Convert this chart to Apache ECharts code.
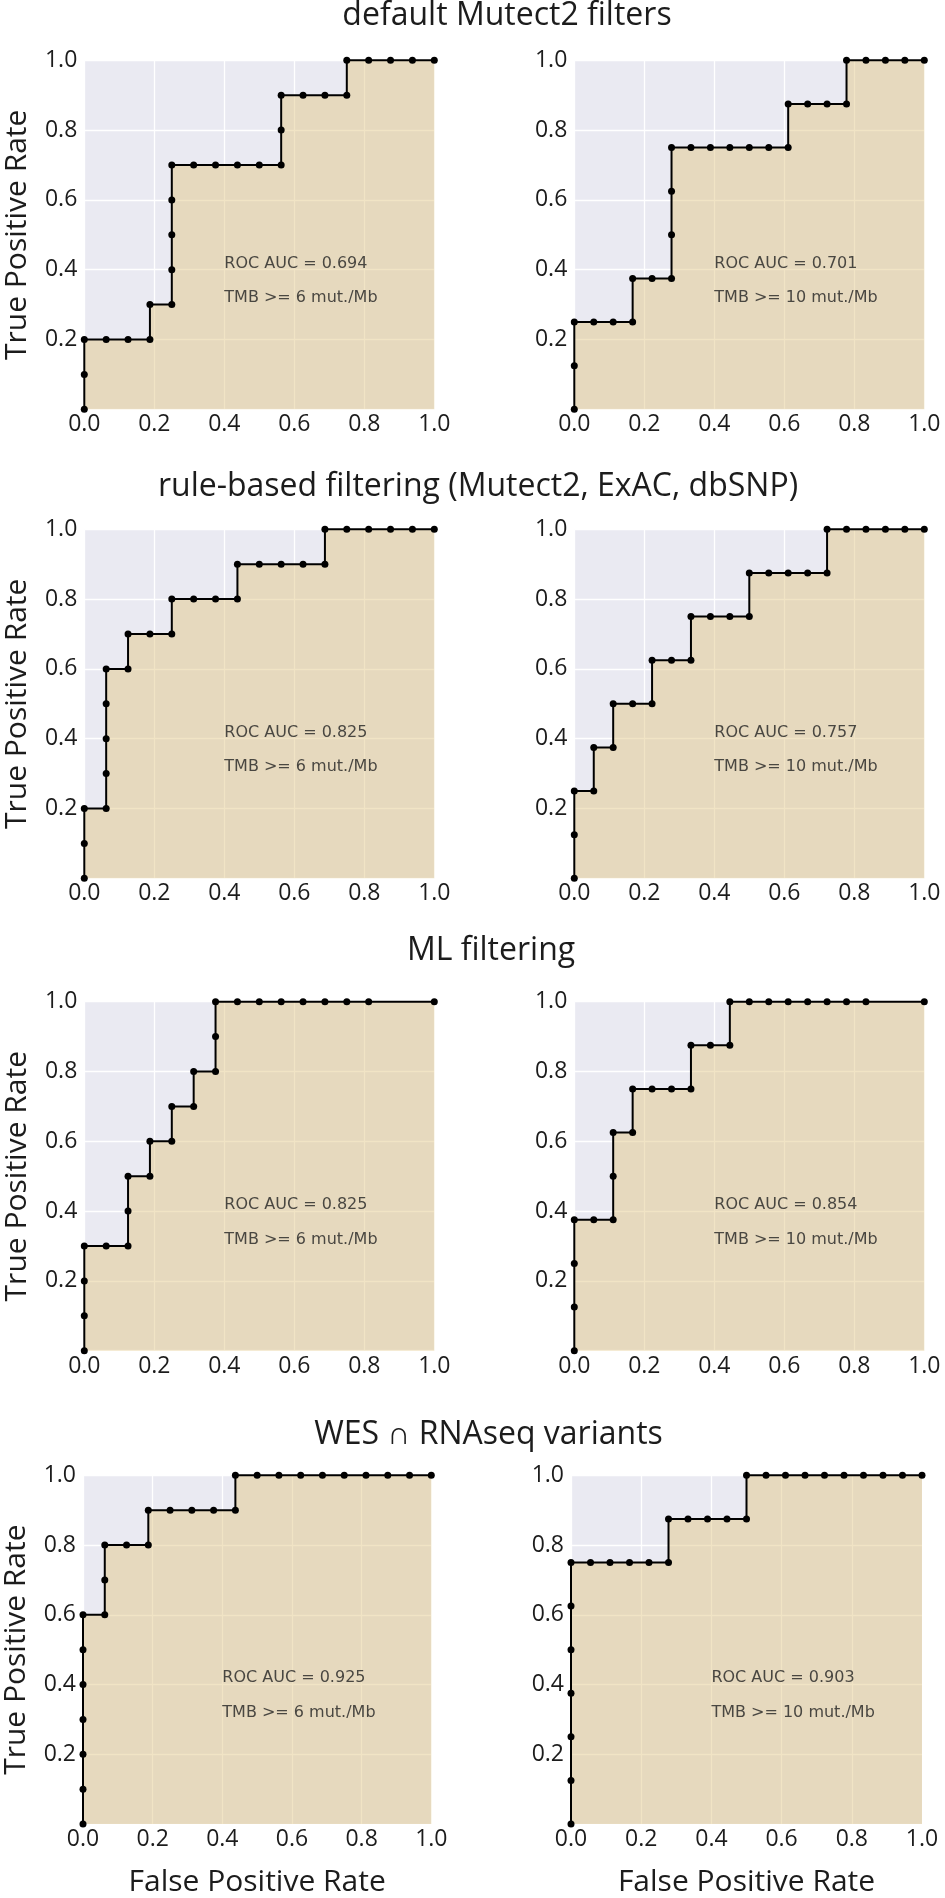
<!DOCTYPE html>
<html><head><meta charset="utf-8">
<script src="https://cdn.jsdelivr.net/npm/echarts@6/dist/echarts.min.js"></script>
<style>html,body{margin:0;padding:0;background:#fff}#c{width:945px;height:1898px}</style>
</head><body><div id="c"></div>
<script>
// ---------------- DATA ----------------
const rowTitles = ['default Mutect2 filters', 'rule-based filtering (Mutect2, ExAC, dbSNP)', 'ML filtering', 'WES \u2229 RNAseq variants'];
const xTickValues = [0, 0.2, 0.4, 0.6, 0.8, 1.0];
const yLabelName = 'True Positive Rate';
const xLabelName = 'False Positive Rate';

// default Mutect2 filters, TMB >= 6
const fpr_default_6 = [0,0,0,0.0625,0.125,0.1875,0.1875,0.25,0.25,0.25,0.25,0.25,0.3125,0.375,0.4375,0.5,0.5625,0.5625,0.5625,0.625,0.6875,0.75,0.75,0.8125,0.875,0.9375,1];
const tpr_default_6 = [0,0.1,0.2,0.2,0.2,0.2,0.3,0.3,0.4,0.5,0.6,0.7,0.7,0.7,0.7,0.7,0.7,0.8,0.9,0.9,0.9,0.9,1,1,1,1,1];
// default Mutect2 filters, TMB >= 10
const fpr_default_10 = [0,0,0,0.0556,0.1111,0.1667,0.1667,0.2222,0.2778,0.2778,0.2778,0.2778,0.3333,0.3889,0.4444,0.5,0.5556,0.6111,0.6111,0.6667,0.7222,0.7778,0.7778,0.8333,0.8889,0.9444,1];
const tpr_default_10 = [0,0.125,0.25,0.25,0.25,0.25,0.375,0.375,0.375,0.5,0.625,0.75,0.75,0.75,0.75,0.75,0.75,0.75,0.875,0.875,0.875,0.875,1,1,1,1,1];
// rule-based, TMB >= 6
const fpr_rule_6 = [0,0,0,0.0625,0.0625,0.0625,0.0625,0.0625,0.125,0.125,0.1875,0.25,0.25,0.3125,0.375,0.4375,0.4375,0.5,0.5625,0.625,0.6875,0.6875,0.75,0.8125,0.875,0.9375,1];
const tpr_rule_6 = [0,0.1,0.2,0.2,0.3,0.4,0.5,0.6,0.6,0.7,0.7,0.7,0.8,0.8,0.8,0.8,0.9,0.9,0.9,0.9,0.9,1,1,1,1,1,1];
// rule-based, TMB >= 10
const fpr_rule_10 = [0,0,0,0.0556,0.0556,0.1111,0.1111,0.1667,0.2222,0.2222,0.2778,0.3333,0.3333,0.3889,0.4444,0.5,0.5,0.5556,0.6111,0.6667,0.7222,0.7222,0.7778,0.8333,0.8889,0.9444,1];
const tpr_rule_10 = [0,0.125,0.25,0.25,0.375,0.375,0.5,0.5,0.5,0.625,0.625,0.625,0.75,0.75,0.75,0.75,0.875,0.875,0.875,0.875,0.875,1,1,1,1,1,1];
// ML filtering, TMB >= 6
const fpr_ml_6 = [0,0,0,0,0.0625,0.125,0.125,0.125,0.1875,0.1875,0.25,0.25,0.3125,0.3125,0.375,0.375,0.375,0.4375,0.5,0.5625,0.625,0.6875,0.75,0.8125,1];
const tpr_ml_6 = [0,0.1,0.2,0.3,0.3,0.3,0.4,0.5,0.5,0.6,0.6,0.7,0.7,0.8,0.8,0.9,1,1,1,1,1,1,1,1,1];
// ML filtering, TMB >= 10
const fpr_ml_10 = [0,0,0,0,0.0556,0.1111,0.1111,0.1111,0.1667,0.1667,0.2222,0.2778,0.3333,0.3333,0.3889,0.4444,0.4444,0.5,0.5556,0.6111,0.6667,0.7222,0.7778,0.8333,1];
const tpr_ml_10 = [0,0.125,0.25,0.375,0.375,0.375,0.5,0.625,0.625,0.75,0.75,0.75,0.75,0.875,0.875,0.875,1,1,1,1,1,1,1,1,1];
// WES ∩ RNAseq, TMB >= 6
const fpr_wes_6 = [0,0,0,0,0,0,0,0.0625,0.0625,0.0625,0.125,0.1875,0.1875,0.25,0.3125,0.375,0.4375,0.4375,0.5,0.5625,0.625,0.6875,0.75,0.8125,0.875,0.9375,1];
const tpr_wes_6 = [0,0.1,0.2,0.3,0.4,0.5,0.6,0.6,0.7,0.8,0.8,0.8,0.9,0.9,0.9,0.9,0.9,1,1,1,1,1,1,1,1,1,1];
// WES ∩ RNAseq, TMB >= 10
const fpr_wes_10 = [0,0,0,0,0,0,0,0.0556,0.1111,0.1667,0.2222,0.2778,0.2778,0.3333,0.3889,0.4444,0.5,0.5,0.5556,0.6111,0.6667,0.7222,0.7778,0.8333,0.8889,0.9444,1];
const tpr_wes_10 = [0,0.125,0.25,0.375,0.5,0.625,0.75,0.75,0.75,0.75,0.75,0.75,0.875,0.875,0.875,0.875,0.875,1,1,1,1,1,1,1,1,1,1];

const aucValues = ['0.694', '0.701', '0.825', '0.757', '0.825', '0.854', '0.925', '0.903'];
const tmbThresholds = ['6', '10'];

// ---------------- LAYOUT ----------------
const panelData = [
  [fpr_default_6, tpr_default_6], [fpr_default_10, tpr_default_10],
  [fpr_rule_6, tpr_rule_6], [fpr_rule_10, tpr_rule_10],
  [fpr_ml_6, tpr_ml_6], [fpr_ml_10, tpr_ml_10],
  [fpr_wes_6, tpr_wes_6], [fpr_wes_10, tpr_wes_10]
];
const rowTops = [60.3, 529.3, 1001.7, 1475.3];
const plotH = 349;
const colLefts = [[84.3, 574.3], [84.3, 574.3], [84.3, 574.3], [80.3, 571]];
const plotW = [350, 350, 350, 351];
const titlePos = [[507, 16], [478, 487], [491, 951], [488.5, 1435]];

const FONT = "'Open Sans', 'Noto Sans', sans-serif";
const TXT = '#1c1c1c';
const FILL = 'rgba(225,197,130,0.66)';

const grids = [], xAxes = [], yAxes = [], series = [];
panelData.forEach((pd, i) => {
  const row = Math.floor(i / 2), col = i % 2;
  grids.push({
    left: colLefts[row][col], top: rowTops[row], width: plotW[row], height: plotH,
    show: true, backgroundColor: '#EAEAF2', borderWidth: 0, containLabel: false
  });
  xAxes.push({
    type: 'value', gridIndex: i, min: 0, max: 1, interval: 0.2,
    axisLine: { show: false }, axisTick: { show: false },
    splitLine: { show: true, lineStyle: { color: '#ffffff', width: 1.3 } },
    axisLabel: { fontSize: 23, fontFamily: FONT, color: TXT, margin: 4,
      formatter: v => xTickValues.includes(Math.round(v * 10) / 10) ? v.toFixed(1) : '' },
    name: row === 3 ? xLabelName : '', nameLocation: 'middle', nameGap: 43,
    nameTextStyle: { fontSize: 30, fontFamily: FONT, color: TXT }
  });
  yAxes.push({
    type: 'value', gridIndex: i, min: 0, max: 1, interval: 0.2,
    axisLine: { show: false }, axisTick: { show: false },
    splitLine: { show: true, lineStyle: { color: '#ffffff', width: 1.3 } },
    axisLabel: { fontSize: 23, fontFamily: FONT, color: TXT, margin: 7,
      formatter: v => v === 0 ? '' : v.toFixed(1) },
    name: col === 0 ? yLabelName : '', nameLocation: 'middle', nameGap: 52,
    nameTextStyle: { fontSize: 30, fontFamily: FONT, color: TXT }
  });
  series.push({
    type: 'line', xAxisIndex: i, yAxisIndex: i,
    data: pd[0].map((x, k) => [x, pd[1][k]]),
    symbol: 'circle', symbolSize: 7, showSymbol: true, clip: false,
    itemStyle: { color: '#000' },
    lineStyle: { color: '#000', width: 2 },
    areaStyle: { color: FILL, origin: 'start' },
    silent: true, z: 3
  });
  series.push({
    type: 'scatter', xAxisIndex: i, yAxisIndex: i, symbolSize: 0, silent: true, z: 4,
    data: [
      { value: [0.4, 0.418], label: { formatter: 'ROC AUC = ' + aucValues[i] } },
      { value: [0.4, 0.318], label: { formatter: 'TMB >= ' + tmbThresholds[col] + ' mut./Mb' } }
    ],
    label: { show: true, position: 'right', distance: 0, fontSize: 16,
      fontFamily: "'DejaVu Sans', sans-serif", color: '#222' }
  });
});

const graphics = rowTitles.map((t, r) => ({
  type: 'text', x: titlePos[r][0], y: titlePos[r][1], silent: true,
  style: { text: t, fill: TXT, font: "32px 'Open Sans', 'Noto Sans', sans-serif", align: 'center', verticalAlign: 'middle' }
}));

const chart = echarts.init(document.getElementById('c'), null, { renderer: 'canvas' });
chart.setOption({
  animation: false,
  backgroundColor: '#ffffff',
  grid: grids, xAxis: xAxes, yAxis: yAxes, series: series,
  graphic: graphics
});
</script></body></html>
